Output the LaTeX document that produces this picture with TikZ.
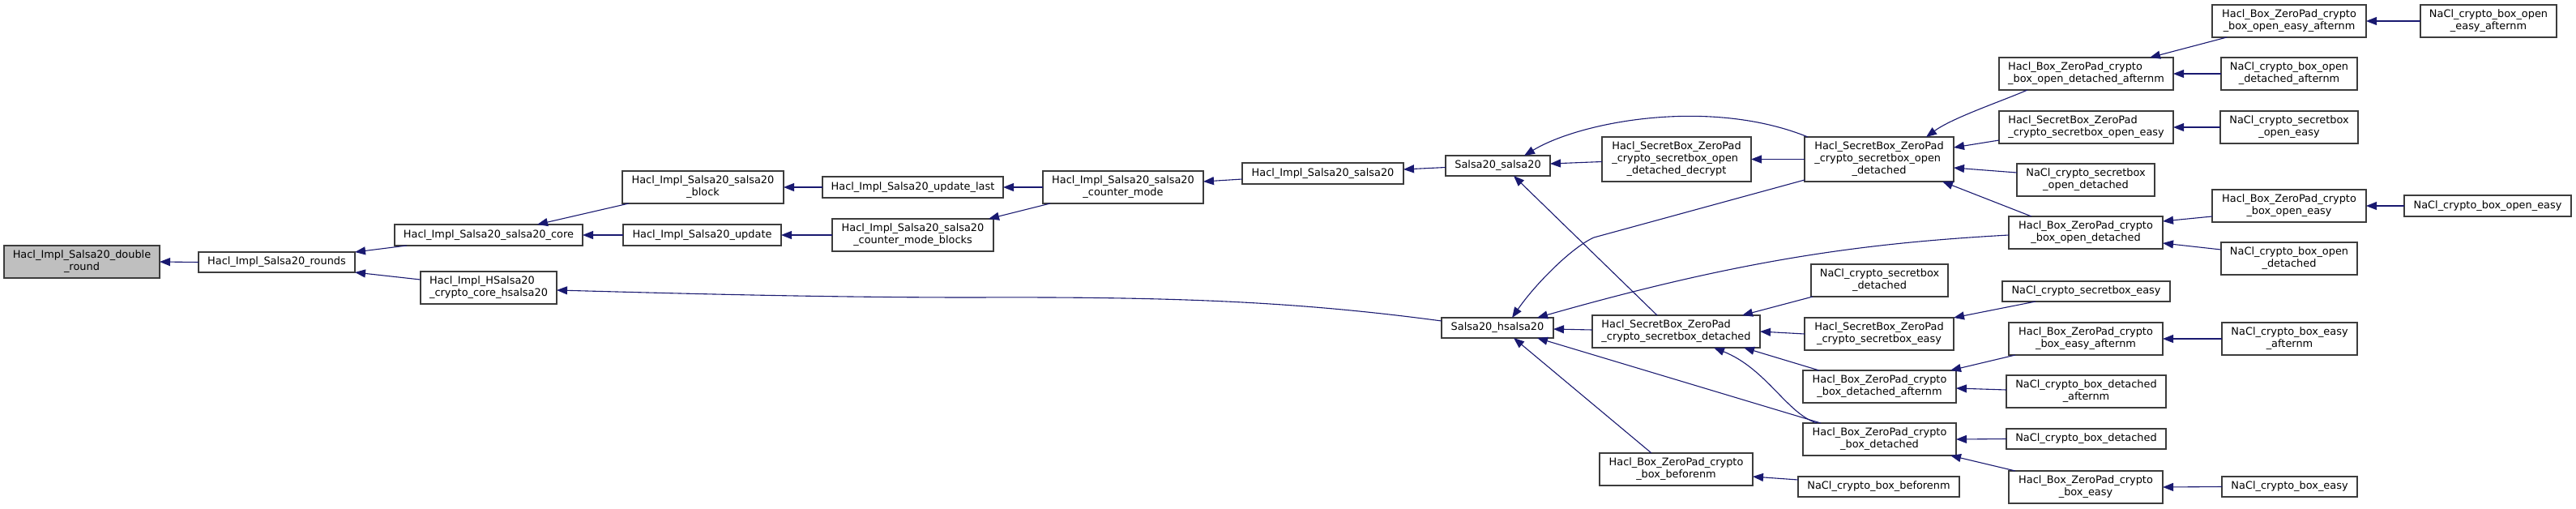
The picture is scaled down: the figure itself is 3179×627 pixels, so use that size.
\documentclass[tikz,border=0pt]{standalone}
\usepackage{fontspec}
\setmainfont{DejaVu Sans}
\usetikzlibrary{arrows.meta,calc}
\definecolor{midnight}{RGB}{25,25,112}
\definecolor{nodeborder}{RGB}{60,60,60}
\definecolor{rootfill}{RGB}{191,191,191}
\newcommand\mc[1]{\multicolumn{1}{@{}c@{}}{#1}}
\newcommand\lb[1]{\begin{tabular}{@{}l@{}}#1\end{tabular}}
\newcommand\nd[7][white]{\node[box,fill=#1,minimum width={(#5-#3)*1pt},minimum height={(#6-#4)*1pt}] (#2) at ({(#3+#5)/2},{(#4+#6)/2}) {#7};}
\begin{document}
\begin{tikzpicture}[x=1pt,y=-1pt,
  box/.style={draw=nodeborder,line width=1.3pt,rectangle,inner sep=0pt,outer sep=0pt,
    font={\fontsize{12.9}{14.7}\selectfont}},
  edge/.style={draw=midnight,line width=1.1pt,-{Triangle[length=13pt,width=10pt]}}]
\useasboundingbox (0,0) rectangle (3179,627);
% nodes
\nd[rootfill]{N1}{5}{303}{197}{343}{\lb{Hacl\_Impl\_Salsa20\_double\\\mc{\_round}}}
\nd{N2}{245}{311}{438}{336}{Hacl\_Impl\_Salsa20\_rounds}
\nd{N3}{487}{277}{719}{303}{Hacl\_Impl\_Salsa20\_salsa20\_core}
\nd{N4}{519}{335}{687}{375}{\lb{Hacl\_Impl\_HSalsa20\\\mc{\_crypto\_core\_hsalsa20}}}
\nd{N5}{768}{211}{967}{251}{\lb{Hacl\_Impl\_Salsa20\_salsa20\\\mc{\_block}}}
\nd{N6}{769}{277}{964}{303}{Hacl\_Impl\_Salsa20\_update}
\nd{N7}{1015}{218}{1238}{244}{Hacl\_Impl\_Salsa20\_update\_last}
\nd{N8}{1027}{270}{1226}{310}{\lb{Hacl\_Impl\_Salsa20\_salsa20\\\mc{\_counter\_mode\_blocks}}}
\nd{N9}{1287}{211}{1485}{251}{\lb{Hacl\_Impl\_Salsa20\_salsa20\\\mc{\_counter\_mode}}}
\nd{N10}{1533}{201}{1732}{227}{Hacl\_Impl\_Salsa20\_salsa20}
\nd{N11}{1784}{192}{1913}{217}{Salsa20\_salsa20}
\nd{N12}{1977}{169}{2161}{224}{\lb{Hacl\_SecretBox\_ZeroPad\\\_crypto\_secretbox\_open\\\mc{\_detached\_decrypt}}}
\nd{N13}{2227}{169}{2411}{224}{\lb{Hacl\_SecretBox\_ZeroPad\\\_crypto\_secretbox\_open\\\mc{\_detached}}}
\nd{N14}{1779}{392}{1917}{417}{Salsa20\_hsalsa20}
\nd{N15}{1965}{389}{2172}{429}{\lb{Hacl\_SecretBox\_ZeroPad\\\mc{\_crypto\_secretbox\_detached}}}
\nd{N16}{2235}{326}{2404}{366}{\lb{NaCl\_crypto\_secretbox\\\mc{\_detached}}}
\nd{N17}{2227}{392}{2411}{432}{\lb{Hacl\_SecretBox\_ZeroPad\\\mc{\_crypto\_secretbox\_easy}}}
\nd{N18}{2225}{457}{2414}{497}{\lb{Hacl\_Box\_ZeroPad\_crypto\\\mc{\_box\_detached\_afternm}}}
\nd{N19}{2225}{522}{2414}{562}{\lb{Hacl\_Box\_ZeroPad\_crypto\\\mc{\_box\_detached}}}
\nd{N20}{1974}{559}{2163}{599}{\lb{Hacl\_Box\_ZeroPad\_crypto\\\mc{\_box\_beforenm}}}
\nd{N21}{2219}{588}{2418}{613}{NaCl\_crypto\_box\_beforenm}
\nd{N22}{2467}{71}{2682}{111}{\lb{Hacl\_Box\_ZeroPad\_crypto\\\mc{\_box\_open\_detached\_afternm}}}
\nd{N23}{2467}{137}{2682}{177}{\lb{Hacl\_SecretBox\_ZeroPad\\\mc{\_crypto\_secretbox\_open\_easy}}}
\nd{N24}{2489}{202}{2659}{242}{\lb{NaCl\_crypto\_secretbox\\\mc{\_open\_detached}}}
\nd{N25}{2479}{267}{2669}{307}{\lb{Hacl\_Box\_ZeroPad\_crypto\\\mc{\_box\_open\_detached}}}
\nd{N26}{2471}{347}{2678}{372}{NaCl\_crypto\_secretbox\_easy}
\nd{N27}{2479}{398}{2669}{438}{\lb{Hacl\_Box\_ZeroPad\_crypto\\\mc{\_box\_easy\_afternm}}}
\nd{N28}{2476}{463}{2673}{503}{\lb{NaCl\_crypto\_box\_detached\\\mc{\_afternm}}}
\nd{N29}{2476}{529}{2673}{554}{NaCl\_crypto\_box\_detached}
\nd{N30}{2479}{581}{2669}{621}{\lb{Hacl\_Box\_ZeroPad\_crypto\\\mc{\_box\_easy}}}
\nd{N31}{2730}{6}{2920}{46}{\lb{Hacl\_Box\_ZeroPad\_crypto\\\mc{\_box\_open\_easy\_afternm}}}
\nd{N32}{2741}{71}{2909}{111}{\lb{NaCl\_crypto\_box\_open\\\mc{\_detached\_afternm}}}
\nd{N33}{2740}{137}{2910}{177}{\lb{NaCl\_crypto\_secretbox\\\mc{\_open\_easy}}}
\nd{N34}{2730}{234}{2920}{274}{\lb{Hacl\_Box\_ZeroPad\_crypto\\\mc{\_box\_open\_easy}}}
\nd{N35}{2741}{299}{2909}{339}{\lb{NaCl\_crypto\_box\_open\\\mc{\_detached}}}
\nd{N36}{2742}{398}{2909}{438}{\lb{NaCl\_crypto\_box\_easy\\\mc{\_afternm}}}
\nd{N37}{2742}{588}{2909}{613}{NaCl\_crypto\_box\_easy}
\nd{N38}{2987}{6}{3155}{46}{\lb{NaCl\_crypto\_box\_open\\\mc{\_easy\_afternm}}}
\nd{N39}{2967}{241}{3173}{267}{NaCl\_crypto\_box\_open\_easy}
% edges (caller -> callee)
\draw[edge] (N2.west) -- (N1.east);
\draw[edge] ([shift={(15,0)}]N3.south west) -- (N2.north east);
\draw[edge] ([shift={(0,10)}]N4.north west) -- (N2.south east);
\draw[edge] ([shift={(8,0)}]N5.south west) -- ([shift={(-56,0)}]N3.north east);
\draw[edge] (N6.west) -- (N3.east);
\draw[edge] (N7.west) -- (N5.east);
\draw[edge] (N8.west) -- (N6.east);
\draw[edge] (N9.west) -- (N7.east);
\draw[edge] ([shift={(9,0)}]N9.south west) -- ([shift={(-6,0)}]N8.north east);
\draw[edge] ([shift={(0,7)}]N10.west) -- ([shift={(0,-7)}]N9.east);
\draw[edge] ([shift={(0,2)}]N11.west) -- ([shift={(0,-5)}]N10.east);
\draw[edge] ([shift={(0,3)}]N12.west) -- ([shift={(0,-2.5)}]N11.east);
\draw[edge] (N13.west) -- (N12.east);
\draw[edge] ([shift={(4,0)}]N13.north west) .. controls (2110,120) and (1950,150) .. ([shift={(-32,0)}]N11.north east);
\draw[edge] ([shift={(0,-2)}]N13.south west) -- (1967,293) .. controls (1940,305) and (1895,350) .. ([shift={(-51,0)}]N14.north east);
\draw[edge] ([shift={(80,0)}]N15.north west) -- ([shift={(84,0)}]N11.south west);
\draw[edge] ([shift={(0,-2)}]N15.west) -- ([shift={(0,1.5)}]N14.east);
\draw[edge] ([shift={(0,3)}]N25.west) .. controls (2300,300) and (2150,320) .. ([shift={(-20,0)}]N14.north east);
\draw[edge] ([shift={(22,0)}]N19.north west) -- ([shift={(-20,0)}]N14.south east);
\draw[edge] ([shift={(64,0)}]N20.north west) -- ([shift={(89,0)}]N14.south west);
\draw[edge] ([shift={(35,0)}]N22.south west) .. controls (2470,125) and (2410,145) .. ([shift={(-34,0)}]N13.north east);
\draw[edge] ([shift={(0,-4)}]N23.south west) -- ([shift={(0,-14.5)}]N13.east);
\draw[edge] ([shift={(0,-9)}]N24.west) -- ([shift={(0,10.5)}]N13.east);
\draw[edge] ([shift={(28,0)}]N25.north west) -- ([shift={(-14,0)}]N13.south east);
\draw[edge] ([shift={(2,0)}]N16.south west) -- ([shift={(-22,0)}]N15.north east);
\draw[edge] (N17.west) -- (N15.east);
\draw[edge] ([shift={(20,0)}]N18.north west) -- ([shift={(-20,0)}]N15.south east);
\draw[edge] ([shift={(17,0)}]N19.north west) .. controls (2205,510) and (2180,455) .. ([shift={(150,0)}]N15.south west);
\draw[edge] ([shift={(0,-8.5)}]N21.west) -- ([shift={(0,9)}]N20.east);
\draw[edge] ([shift={(18,0)}]N31.south west) -- ([shift={(-29,0)}]N22.north east);
\draw[edge] (N32.west) -- (N22.east);
\draw[edge] (N33.west) -- (N23.east);
\draw[edge] ([shift={(0,13)}]N34.west) -- ([shift={(0,-14)}]N25.east);
\draw[edge] ([shift={(0,-11)}]N35.west) -- ([shift={(0,13)}]N25.east);
\draw[edge] ([shift={(41,0)}]N26.south west) -- (N17.north east);
\draw[edge] ([shift={(8,0)}]N27.south west) -- ([shift={(-7,0)}]N18.north east);
\draw[edge] ([shift={(0,-2)}]N28.west) -- ([shift={(0,2)}]N18.east);
\draw[edge] (N29.west) -- (N19.east);
\draw[edge] ([shift={(8,0)}]N30.north west) -- ([shift={(-7,0)}]N19.south east);
\draw[edge] (N38.west) -- (N31.east);
\draw[edge] (N39.west) -- (N34.east);
\draw[edge] (N36.west) -- (N27.east);
\draw[edge] (N37.west) -- (N30.east);
\draw[edge] ([shift={(0,-8.5)}]N14.west) .. controls (1600,372) and (1450,366) .. (1200,367) .. controls (1000,367) and (800,361) .. ([shift={(0,3)}]N4.east);
\end{tikzpicture}
\end{document}
